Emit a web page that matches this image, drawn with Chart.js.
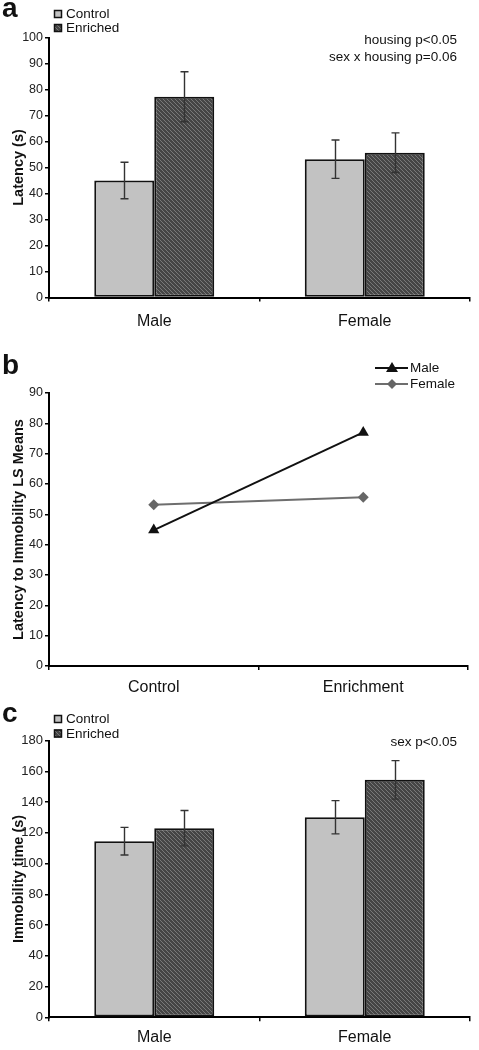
<!DOCTYPE html>
<html>
<head>
<meta charset="utf-8">
<script src="https://cdn.jsdelivr.net/npm/chart.js@4.4.0/dist/chart.umd.min.js"></script>
<style>
body { margin: 0; background: #fff; font-family: "Liberation Sans", Arial, sans-serif; }
#page { position: relative; width: 479px; height: 1050px; overflow: hidden; }
.panel { position: absolute; left: 0; }
.letter { position: absolute; left: 2px; font-weight: bold; font-size: 28px; line-height: 28px; color: #111; }
.note { position: absolute; right: 22px; font-size: 13.5px; line-height: 17px; text-align: right; color: #111; white-space: nowrap; }
</style>
</head>
<body>
<div id="page">
  <canvas id="chartA" class="panel" width="479" height="340" style="top:0"></canvas>
  <canvas id="chartB" class="panel" width="479" height="360" style="top:340px"></canvas>
  <canvas id="chartC" class="panel" width="479" height="350" style="top:700px"></canvas>
  <div class="letter" style="top:-6px">a</div>
  <div class="letter" style="top:351px">b</div>
  <div class="letter" style="top:699px">c</div>
  <div class="note" style="top:31px">housing p&lt;0.05<br>sex x housing p=0.06</div>
  <div class="note" style="top:733px">sex p&lt;0.05</div>
</div>
<script>
// values
var sexes = ["Male", "Female"];
var housing = ["Control", "Enriched"];

// panel a - latency (s)
var latencyControl = [45.0, 53.2];
var latencyControlErr = [7.0, 7.4];
var latencyEnriched = [77.2, 55.7];
var latencyEnrichedErr = [9.6, 7.6];
var latencyTicks = [0, 100, 10];

// panel b - LS means
var lsGroups = ["Control", "Enrichment"];
var lsSeries = ["Male", "Female"];
var lsMale = [44.8, 77.0];
var lsFemale = [53.2, 55.6];
var lsTicks = [0, 90, 10];

// panel c - immobility time (s)
var immControl = [114.5, 130.1];
var immControlErr = [9.0, 10.8];
var immEnriched = [123.0, 154.4];
var immEnrichedErr = [11.5, 12.5];
var immTicks = [0, 180, 20];

var FONT = '"Liberation Sans", Arial, sans-serif';
Chart.defaults.font.family = FONT;
Chart.defaults.color = "#222";
Chart.defaults.animation = false;

// hatched fill for the enriched bars
function makeHatch() {
  var c = document.createElement("canvas");
  c.width = 4; c.height = 4;
  var g = c.getContext("2d");
  g.fillStyle = "#454545";
  g.fillRect(0, 0, 4, 4);
  g.fillStyle = "#787878";
  for (var i = 0; i < 4; i++) g.fillRect(i, i, 1, 1);
  return g.createPattern(c, "repeat");
}
var hatch = makeHatch();
var lightGray = "#c2c2c2";

// error bars drawn over the bars
var errorBars = {
  id: "errorBars",
  afterDatasetsDraw: function (chart, args, opts) {
    var ctx = chart.ctx;
    var yScale = chart.scales.y;
    ctx.save();
    ctx.strokeStyle = opts.color || "#333";
    ctx.lineWidth = 1.4;
    chart.data.datasets.forEach(function (ds, di) {
      if (!ds.errors) return;
      var meta = chart.getDatasetMeta(di);
      meta.data.forEach(function (bar, i) {
        var v = ds.data[i], e = ds.errors[i];
        var x = Math.round(bar.x) + 0.5;
        var yt = yScale.getPixelForValue(v + e);
        var yb = yScale.getPixelForValue(v - e);
        ctx.beginPath();
        ctx.moveTo(x, yt); ctx.lineTo(x, yb);
        ctx.moveTo(x - 4, yt); ctx.lineTo(x + 4, yt);
        ctx.moveTo(x - 4, yb); ctx.lineTo(x + 4, yb);
        ctx.stroke();
      });
    });
    ctx.restore();
  }
};

// little square legend of panels a and c
var boxLegend = {
  id: "boxLegend",
  afterDraw: function (chart, args, opts) {
    var ctx = chart.ctx;
    ctx.save();
    ctx.font = "13.5px " + FONT;
    ctx.textBaseline = "middle";
    chart.data.datasets.forEach(function (ds, i) {
      var y = opts.y[i];
      ctx.fillStyle = ds.backgroundColor;
      ctx.fillRect(opts.x, y - 4, 8, 8);
      ctx.strokeStyle = "#111";
      ctx.lineWidth = 1.5;
      ctx.strokeRect(opts.x + 0.5, y - 3.5, 7, 7);
      ctx.fillStyle = "#111";
      ctx.fillText(ds.label, opts.x + 12, y + 0.5);
    });
    ctx.restore();
  }
};

// line + marker legend of panel b
var lineLegend = {
  id: "lineLegend",
  afterDraw: function (chart, args, opts) {
    var ctx = chart.ctx;
    ctx.save();
    ctx.font = "13.5px " + FONT;
    ctx.textBaseline = "middle";
    chart.data.datasets.forEach(function (ds, i) {
      var y = opts.y[i], x0 = opts.x, x1 = opts.x + 33, xm = opts.x + 17;
      ctx.strokeStyle = ds.borderColor;
      ctx.lineWidth = 2;
      ctx.beginPath(); ctx.moveTo(x0, y); ctx.lineTo(x1, y); ctx.stroke();
      ctx.fillStyle = ds.backgroundColor;
      ctx.beginPath();
      if (ds.pointStyle === "triangle") {
        ctx.moveTo(xm, y - 6); ctx.lineTo(xm + 6, y + 4); ctx.lineTo(xm - 6, y + 4);
      } else {
        ctx.moveTo(xm, y - 5); ctx.lineTo(xm + 5, y); ctx.lineTo(xm, y + 5); ctx.lineTo(xm - 5, y);
      }
      ctx.closePath(); ctx.fill();
      ctx.fillStyle = "#111";
      ctx.fillText(ds.label, x1 + 2, y + 0.5);
    });
    ctx.restore();
  }
};

function yAxis(ticks, title, tickSize) {
  return {
    min: ticks[0], max: ticks[1],
    ticks: { stepSize: ticks[2], color: "#222", font: { size: tickSize }, padding: 2 },
    grid: { drawOnChartArea: false, tickLength: 4, color: "#000", lineWidth: 1.5 },
    border: { color: "#000", width: 2 },
    title: { display: true, text: title, color: "#111", font: { size: 14.5, weight: "bold" }, padding: { top: 10, bottom: 0 } },
    afterFit: function (s) { s.width = 49; }
  };
}

function xAxis(height, pad) {
  return {
    offset: true,
    ticks: { color: "#111", font: { size: 16 }, padding: pad },
    grid: { drawOnChartArea: false, offset: true, tickLength: 4, color: "#000", lineWidth: 1.5 },
    border: { color: "#000", width: 2 },
    afterFit: function (s) { s.height = height; }
  };
}

function barChart(id, ctrl, ctrlErr, enr, enrErr, ticks, title, tickSize, top, xHeight, pad, legendY) {
  return new Chart(id, {
    type: "bar",
    data: {
      labels: sexes,
      datasets: [
        { label: housing[0], data: ctrl, errors: ctrlErr, backgroundColor: lightGray, borderColor: "#111", borderWidth: 2, borderSkipped: false },
        { label: housing[1], data: enr, errors: enrErr, backgroundColor: hatch, borderColor: "#111", borderWidth: 2, borderSkipped: false }
      ]
    },
    options: {
      responsive: false,
      categoryPercentage: 0.57,
      barPercentage: 1,
      layout: { padding: { top: top, right: 9, left: 0, bottom: 0 } },
      scales: { x: xAxis(xHeight, pad), y: yAxis(ticks, title, tickSize) },
      plugins: {
        legend: { display: false },
        tooltip: { enabled: false },
        errorBars: { color: "#333" },
        boxLegend: { x: 54, y: legendY }
      }
    },
    plugins: [errorBars, boxLegend]
  });
}

barChart("chartA", latencyControl, latencyControlErr, latencyEnriched, latencyEnrichedErr,
  latencyTicks, "Latency (s)", 12.5, 37.5, 42.5, 10, [14, 28]);

new Chart("chartB", {
  type: "line",
  data: {
    labels: lsGroups,
    datasets: [
      { label: lsSeries[0], data: lsMale, borderColor: "#111", backgroundColor: "#111", borderWidth: 2,
        pointStyle: "triangle", pointRadius: 6.5, pointBorderWidth: 0 },
      { label: lsSeries[1], data: lsFemale, borderColor: "#6e6e6e", backgroundColor: "#666", borderWidth: 2,
        pointStyle: "rectRot", pointRadius: 5.5, pointBorderWidth: 0 }
    ]
  },
  options: {
    responsive: false,
    layout: { padding: { top: 53, right: 11, left: 0, bottom: 0 } },
    scales: { x: xAxis(34, 8), y: yAxis(lsTicks, "Latency to Immobility LS Means", 12.5) },
    plugins: {
      legend: { display: false },
      tooltip: { enabled: false },
      lineLegend: { x: 375, y: [28, 44] }
    }
  },
  plugins: [lineLegend]
});

barChart("chartC", immControl, immControlErr, immEnriched, immEnrichedErr,
  immTicks, "Immobility time (s)", 13, 40.5, 32.7, 7, [19, 33.5]);
</script>
</body>
</html>
